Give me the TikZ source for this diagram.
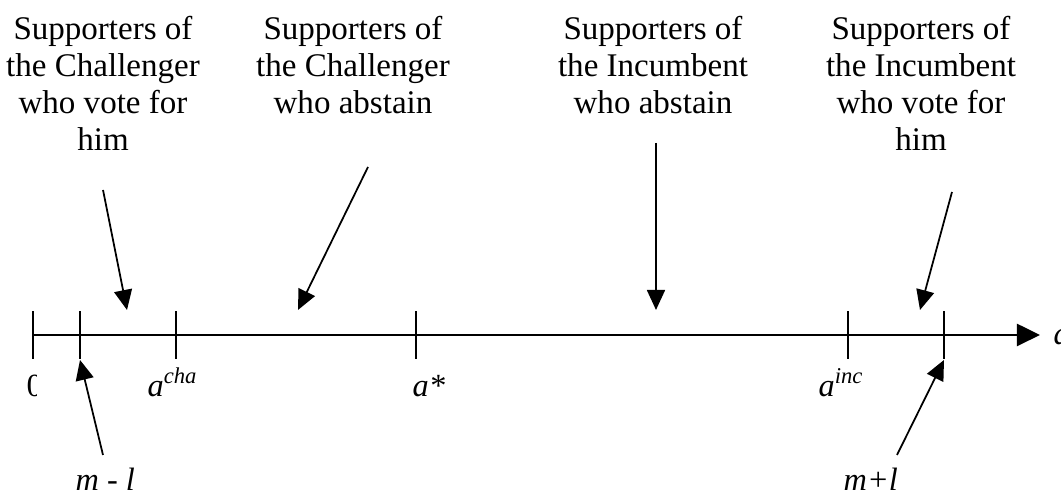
\documentclass[tikz,border=0pt]{standalone}
\usepackage{fontspec}
\setmainfont{Liberation Serif}
\usetikzlibrary{arrows.meta,positioning}

\begin{document}
\begin{tikzpicture}[>={Triangle[length=2mm,width=1.8mm]}, scale=1.0,
    group/.style={align=center, inner sep=0pt, anchor=north, font=\fontsize{9.4}{10.45}\selectfont},
    lbl/.style={inner sep=0pt, anchor=base west, font=\fontsize{9.2}{10.45}\selectfont\itshape},
    axtick/.style={line width=0.7pt},
    pointer/.style={->, line width=0.5pt}]
  \useasboundingbox (0,0) rectangle (10.61,4.95);
  % the action axis
  \coordinate (o) at (0.33,1.60);
  \coordinate (end) at (10.40,1.60);
  \draw[line width=0.7pt, -{Triangle[length=2.3mm,width=2.2mm]}] (o) -- (end);
  \foreach \x/\n in {0.33/t0, 0.80/tml, 1.76/tcha, 4.16/tstar, 8.48/tinc, 9.44/tmpl}{
    \draw[axtick] (\x,1.36) -- (\x,1.84);
    \coordinate (\n) at (\x,1.35);
  }
  % tick labels
  \begin{scope}
    \clip (0.2,0.8) rectangle (0.37,1.2);
    \node[lbl, font=\fontsize{9.2}{10.45}\selectfont] (zero) at (0.26,0.98) {0};
  \end{scope}
  \node[lbl] (acha) at (1.47,0.98) {a\textsuperscript{cha}};
  \node[lbl] (astar) at (4.12,0.98) {a*};
  \node[lbl] (ainc) at (8.18,0.98) {a\textsuperscript{inc}};
  \node[lbl] (aaxis) at (10.53,1.50) {a};
  \node[lbl] (ml) at (0.75,0.04) {m - l};
  \node[lbl] (mpl) at (8.43,0.04) {m+l};
  % the four groups of supporters
  \node[group] (chavote) at (1.03,4.79) {Supporters of\\the Challenger\\who vote for\\him};
  \node[group] (chaabs) at (3.53,4.79) {Supporters of\\the Challenger\\who abstain};
  \node[group] (incabs) at (6.53,4.79) {Supporters of\\the Incumbent\\who abstain};
  \node[group] (incvote) at (9.21,4.79) {Supporters of\\the Incumbent\\who vote for\\him};
  % pointers into the axis
  \coordinate (s1) at (1.03,3.05);
  \coordinate (e1) at (1.27,1.85);
  \coordinate (s2) at (3.68,3.28);
  \coordinate (e2) at (2.98,1.85);
  \coordinate (s3) at (6.56,3.52);
  \coordinate (e3) at (6.56,1.85);
  \coordinate (s4) at (9.52,3.03);
  \coordinate (e4) at (9.20,1.85);
  \coordinate (s5) at (1.03,0.40);
  \coordinate (s6) at (8.97,0.40);
  \draw[pointer] (s1) -- (e1);
  \draw[pointer] (s2) -- (e2);
  \draw[pointer] (s3) -- (e3);
  \draw[pointer] (s4) -- (e4);
  \draw[pointer] (s5) -- (tml);
  \draw[pointer] (s6) -- (tmpl);
\end{tikzpicture}
\end{document}
